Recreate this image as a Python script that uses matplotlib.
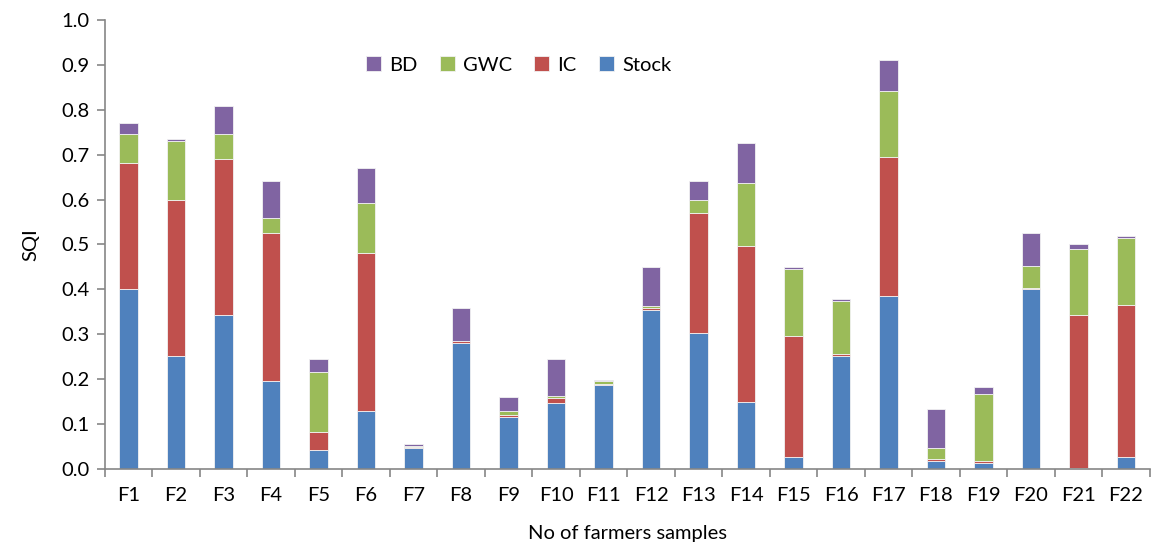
import matplotlib.pyplot as plt
import numpy as np

plt.rcParams['font.family'] = ['Lato', 'DejaVu Sans']

# --- data ---
farmers = ['F%d' % i for i in range(1, 23)]
stock = [0.400, 0.252, 0.342, 0.195, 0.043, 0.129, 0.047, 0.281, 0.116, 0.146, 0.186,
         0.355, 0.302, 0.149, 0.026, 0.252, 0.386, 0.018, 0.013, 0.400, 0.002, 0.026]
ic = [0.282, 0.347, 0.348, 0.331, 0.039, 0.352, 0.001, 0.003, 0.004, 0.011, 0.003,
      0.004, 0.268, 0.348, 0.270, 0.004, 0.308, 0.004, 0.005, 0.003, 0.340, 0.339]
gwc = [0.065, 0.131, 0.057, 0.032, 0.133, 0.111, 0.004, 0.000, 0.009, 0.005, 0.006,
       0.004, 0.030, 0.139, 0.149, 0.118, 0.147, 0.025, 0.148, 0.049, 0.147, 0.149]
bd = [0.024, 0.006, 0.061, 0.083, 0.029, 0.078, 0.003, 0.074, 0.032, 0.082, 0.004,
      0.086, 0.041, 0.091, 0.004, 0.005, 0.071, 0.086, 0.016, 0.074, 0.013, 0.004]

series = [('Stock', stock, '#4F81BD'), ('IC', ic, '#C0504D'),
          ('GWC', gwc, '#9BBB59'), ('BD', bd, '#8064A2')]

fig = plt.figure(figsize=(11.52, 5.48), dpi=100)
ax = fig.add_axes([0.0911, 0.1442, 0.9069, 0.8193])

x = np.arange(len(farmers))
bottom = np.zeros(len(farmers))
handles = {}
for name, vals, col in series:
    vals = np.array(vals)
    handles[name] = ax.bar(x, vals, 0.39, bottom=bottom, color=col,
                           edgecolor='#f2f2f2', linewidth=0.6, label=name)
    bottom += vals

ax.set_xlim(-0.5, len(farmers) - 0.5)
ax.set_ylim(0, 1.0)
ax.set_yticks(np.arange(0, 1.01, 0.1))
ax.set_yticklabels(['%.1f' % v for v in np.arange(0, 1.01, 0.1)])
ax.set_xticks(x)
ax.set_xticklabels(farmers)
ax.set_xticks(np.arange(-0.5, len(farmers)), minor=True)

for s in ['top', 'right']:
    ax.spines[s].set_visible(False)
for s in ['left', 'bottom']:
    ax.spines[s].set_color('#868686')
    ax.spines[s].set_linewidth(1.2)

ax.tick_params(axis='x', which='major', length=0, pad=13, labelsize=14.5)
ax.tick_params(axis='x', which='minor', length=6, color='#868686', width=1.2)
ax.tick_params(axis='y', length=6, color='#868686', width=1.2, labelsize=14.5, pad=5)

ax.set_ylabel('SQI', fontsize=14.5, labelpad=16)
ax.set_xlabel('No of farmers samples', fontsize=14.5, labelpad=0)
ax.xaxis.set_label_coords(0.5, -0.125)

order = ['BD', 'GWC', 'IC', 'Stock']
ax.legend([handles[k] for k in order], order, loc='center', bbox_to_anchor=(0.396, 0.90),
          ncol=4, frameon=False, fontsize=14.5, handlelength=0.75, handleheight=0.75,
          handletextpad=0.4, columnspacing=1.1)

fig.savefig('out.png', dpi=100)
